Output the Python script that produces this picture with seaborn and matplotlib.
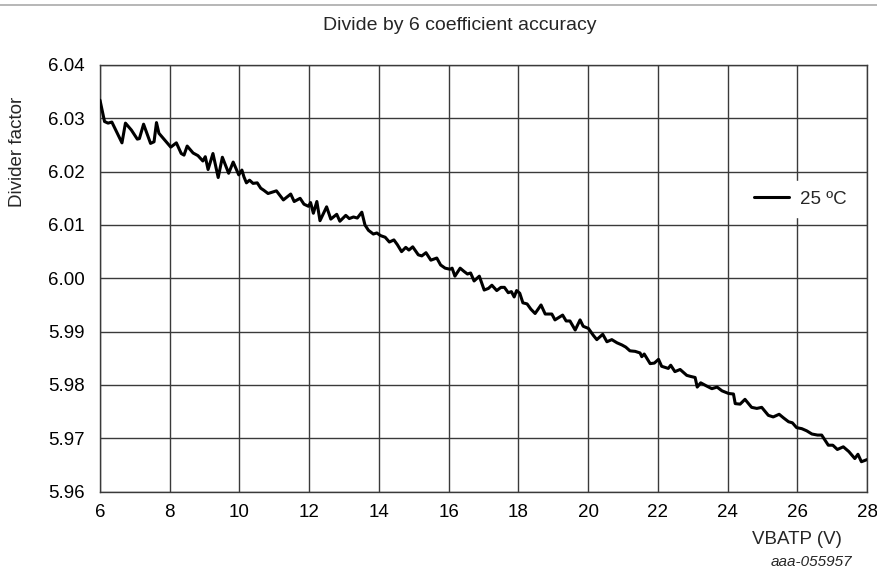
import matplotlib
matplotlib.use("Agg")
import matplotlib.pyplot as plt
from matplotlib.lines import Line2D
import seaborn as sns
import pandas as pd

vbatp = [6.00, 6.13, 6.23, 6.34, 6.63, 6.73, 6.90, 7.07, 7.13, 7.25, 7.45, 7.55, 7.62, 7.69,
         7.86, 8.03, 8.19, 8.33, 8.41, 8.50, 8.67, 8.81, 8.95, 9.02, 9.10, 9.24, 9.39, 9.51,
         9.69, 9.82, 9.98, 10.07, 10.13, 10.20, 10.29, 10.39, 10.51, 10.61, 10.70, 10.82,
         10.96, 11.06, 11.26, 11.47, 11.57, 11.74, 11.85, 11.98, 12.04, 12.12, 12.22, 12.31,
         12.50, 12.62, 12.79, 12.88, 13.05, 13.15, 13.27, 13.38, 13.51, 13.60, 13.70, 13.84,
         13.94, 14.05, 14.18, 14.30, 14.43, 14.53, 14.65, 14.77, 14.86, 14.97, 15.13, 15.23,
         15.35, 15.49, 15.66, 15.77, 15.90, 16.04, 16.10, 16.18, 16.33, 16.44, 16.54, 16.63,
         16.73, 16.88, 17.02, 17.14, 17.24, 17.38, 17.50, 17.60, 17.71, 17.80, 17.88, 17.95,
         18.04, 18.13, 18.25, 18.36, 18.48, 18.65, 18.77, 18.96, 19.05, 19.27, 19.37, 19.48,
         19.63, 19.77, 19.86, 20.01, 20.15, 20.25, 20.42, 20.54, 20.68, 20.83, 20.97, 21.08,
         21.20, 21.35, 21.49, 21.54, 21.61, 21.78, 21.90, 22.02, 22.11, 22.30, 22.37, 22.49,
         22.64, 22.83, 22.94, 23.07, 23.13, 23.23, 23.40, 23.55, 23.70, 23.84, 24.03, 24.17,
         24.22, 24.36, 24.50, 24.69, 24.84, 24.98, 25.17, 25.31, 25.48, 25.61, 25.75, 25.86,
         25.98, 26.13, 26.27, 26.42, 26.58, 26.70, 26.89, 27.02, 27.15, 27.32, 27.48, 27.65,
         27.74, 27.84, 28.00]

divider = [6.0334, 6.0294, 6.0291, 6.0293, 6.0254, 6.0291, 6.0278, 6.0261, 6.0262, 6.0289,
           6.0253, 6.0256, 6.0292, 6.0272, 6.0259, 6.0246, 6.0254, 6.0234, 6.0231, 6.0248,
           6.0235, 6.0230, 6.0220, 6.0228, 6.0204, 6.0234, 6.0189, 6.0227, 6.0197, 6.0218,
           6.0194, 6.0203, 6.0190, 6.0179, 6.0184, 6.0178, 6.0179, 6.0169, 6.0165, 6.0159,
           6.0162, 6.0164, 6.0147, 6.0158, 6.0144, 6.0150, 6.0139, 6.0135, 6.0142, 6.0122,
           6.0144, 6.0108, 6.0134, 6.0111, 6.0120, 6.0107, 6.0118, 6.0112, 6.0115, 6.0113,
           6.0124, 6.0100, 6.0090, 6.0083, 6.0085, 6.0080, 6.0077, 6.0068, 6.0072, 6.0063,
           6.0050, 6.0058, 6.0053, 6.0059, 6.0044, 6.0042, 6.0048, 6.0034, 6.0038, 6.0025,
           6.0019, 6.0017, 6.0019, 6.0004, 6.0019, 6.0013, 6.0008, 6.0010, 5.9995, 6.0004,
           5.9978, 5.9981, 5.9987, 5.9977, 5.9983, 5.9983, 5.9973, 5.9975, 5.9965, 5.9977,
           5.9972, 5.9954, 5.9952, 5.9942, 5.9934, 5.9950, 5.9933, 5.9933, 5.9922, 5.9931,
           5.9920, 5.9920, 5.9903, 5.9922, 5.9910, 5.9906, 5.9893, 5.9885, 5.9895, 5.9881,
           5.9885, 5.9879, 5.9875, 5.9871, 5.9864, 5.9863, 5.9860, 5.9853, 5.9858, 5.9840,
           5.9841, 5.9848, 5.9835, 5.9831, 5.9837, 5.9825, 5.9829, 5.9818, 5.9816, 5.9814,
           5.9796, 5.9804, 5.9798, 5.9793, 5.9796, 5.9789, 5.9784, 5.9783, 5.9765, 5.9764,
           5.9773, 5.9758, 5.9756, 5.9758, 5.9743, 5.9740, 5.9745, 5.9738, 5.9731, 5.9729,
           5.9720, 5.9718, 5.9714, 5.9708, 5.9706, 5.9706, 5.9687, 5.9687, 5.9679, 5.9684,
           5.9675, 5.9662, 5.9670, 5.9656, 5.9660]

x_ticks = [6, 8, 10, 12, 14, 16, 18, 20, 22, 24, 26, 28]
y_ticks = [5.96, 5.97, 5.98, 5.99, 6.00, 6.01, 6.02, 6.03, 6.04]
series_label = "25 ºC"
title = "Divide by 6 coefficient accuracy"
xlabel = "VBATP (V)"
ylabel = "Divider factor"
code = "aaa-055957"

sns.set_theme(style="white")
plt.rcParams["font.family"] = ["Liberation Sans", "DejaVu Sans"]

df = pd.DataFrame({"VBATP": vbatp, "Divider": divider})

W, H = 877, 571
fig = plt.figure(figsize=(W / 100, H / 100), dpi=100)
L, R, T, B = 100, 867, 65, 491.6
ax = fig.add_axes([L / W, (H - B) / H, (R - L) / W, (B - T) / H])

sns.lineplot(data=df, x="VBATP", y="Divider", ax=ax, color="black", linewidth=2.2,
             estimator=None, sort=False, label=series_label, zorder=3)

ax.set_xlim(6, 28)
ax.set_ylim(5.96, 6.04)
ax.set_xticks(x_ticks)
ax.set_xticklabels([str(t) for t in x_ticks])
ax.set_yticks(y_ticks)
ax.set_yticklabels([f"{t:.2f}" for t in y_ticks])
ax.tick_params(axis="both", length=0, labelsize=13.5, colors="black")
ax.tick_params(axis="x", pad=9)
ax.tick_params(axis="y", pad=11)
ax.grid(True, color="#3a3a3a", linewidth=1.0)
for s in ax.spines.values():
    s.set_color("#3a3a3a")
    s.set_linewidth(1.0)
ax.set_xlabel("")
ax.set_ylabel("")

leg = ax.legend(loc="center left", bbox_to_anchor=((745 - L) / (R - L), (B - 199) / (B - T)),
                frameon=True, fontsize=13.5, handlelength=1.85, handletextpad=0.6,
                borderaxespad=0, borderpad=0.5, fancybox=False)
leg.get_frame().set_facecolor("white")
leg.get_frame().set_edgecolor("white")
leg.get_frame().set_alpha(1.0)
leg.set_zorder(5)

fig.text(460 / W, 1 - 26 / H, title, ha="center", va="center", fontsize=14)
fig.text(18 / W, 1 - 152 / H, ylabel, ha="center", va="center", rotation=90, fontsize=13.5)
fig.text(842 / W, 1 - 540 / H, xlabel, ha="right", va="center", fontsize=13.5)
fig.text(852 / W, 1 - 562 / H, code, ha="right", va="center", fontsize=11, style="italic")

fig.add_artist(Line2D([0, 1], [1 - 5 / H, 1 - 5 / H], transform=fig.transFigure,
                      color="#aaaaaa", linewidth=1.2))

fig.savefig("out.png", dpi=100)
